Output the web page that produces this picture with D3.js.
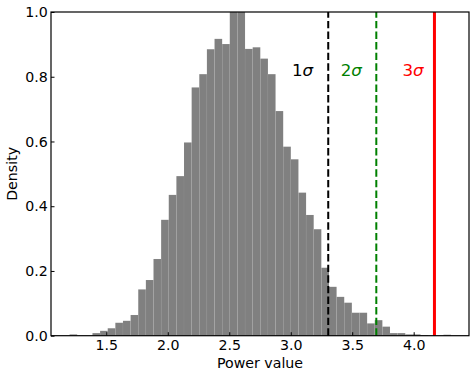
<!DOCTYPE html>
<html>
<head>
<meta charset="utf-8">
<script src="https://cdn.jsdelivr.net/npm/d3@7"></script>
<style>
  body { margin: 0; background: #fff; }
  text { font-family: "DejaVu Sans", sans-serif; }
</style>
</head>
<body>
<div id="chart"></div>
<script>
// histogram: 50 bins between data min and max
var binMin = 1.201,
  binMax = 4.304,
  binCount = 50;
var density = [0.004, 0, 0, 0.008, 0.015, 0.023, 0.040, 0.046, 0.064, 0.143,
  0.172, 0.237, 0.358, 0.435, 0.493, 0.597, 0.767, 0.808, 0.885, 0.917,
  0.901, 1.0, 1.0, 0.886, 0.891, 0.856, 0.808, 0.694, 0.584, 0.545,
  0.442, 0.373, 0.329, 0.210, 0.151, 0.120, 0.102, 0.071, 0.071, 0.038,
  0.048, 0.028, 0.008, 0.008, 0.004, 0.004, 0.002, 0, 0, 0.003];
var sigmaValues = [3.305, 3.696, 4.169];
var sigmaLabels = ['1', '2', '3'];
var sigmaColors = ['black', 'green', 'red'];
var xTicks = [1.5, 2.0, 2.5, 3.0, 3.5, 4.0];
var yTicks = [0, 0.2, 0.4, 0.6, 0.8, 1.0];

var W = 475, H = 377,
  m = {left: 51, right: 6, top: 12, bottom: 41.3};

var svg = d3.select('#chart').append('svg')
  .attr('width', W)
  .attr('height', H);

var x = d3.scaleLinear().domain([1.05, 4.45]).range([m.left, W - m.right]);
var y = d3.scaleLinear().domain([0, 1]).range([H - m.bottom, m.top]);

svg.append('clipPath').attr('id', 'clip')
  .append('rect')
  .attr('x', m.left).attr('y', m.top)
  .attr('width', W - m.left - m.right)
  .attr('height', H - m.top - m.bottom);

var binX = d3.scaleLinear().domain([0, binCount]).range([binMin, binMax]);

svg.append('g').attr('clip-path', 'url(#clip)')
  .selectAll('rect')
  .data(density)
  .enter().append('rect')
  .attr('x', function(d, i) { return x(binX(i)); })
  .attr('width', function(d, i) { return x(binX(i + 1)) - x(binX(i)); })
  .attr('y', function(d) { return y(d); })
  .attr('height', function(d) { return y(0) - y(d); })
  .attr('fill', '#808080')
  .attr('stroke', 'rgba(255,255,255,0.07)')
  .attr('stroke-width', 0.5);

// sigma lines
var lines = svg.append('g');
sigmaValues.forEach(function(v, i) {
  lines.append('line')
    .attr('x1', x(v)).attr('x2', x(v))
    .attr('y1', y(0)).attr('y2', y(1))
    .attr('stroke', sigmaColors[i])
    .attr('stroke-width', i == 2 ? 3 : 2)
    .attr('stroke-dasharray', i == 2 ? null : '7.4,3.2');
});

// labels
var labX = [302.5, 351.3, 413];
sigmaLabels.forEach(function(s, i) {
  var t = svg.append('text')
    .attr('x', labX[i])
    .attr('y', 76)
    .attr('text-anchor', 'middle')
    .attr('fill', sigmaColors[i])
    .style('font-size', '16.7px');
  t.append('tspan').text(s);
  t.append('tspan').style('font-style', 'italic').text('σ');
});

// axes
var xAxis = d3.axisBottom(x).tickValues(xTicks)
  .tickFormat(d3.format('.1f'))
  .tickSizeInner(-3.5).tickSizeOuter(0).tickPadding(4.3);
var yAxis = d3.axisLeft(y).tickValues(yTicks)
  .tickFormat(d3.format('.1f'))
  .tickSizeInner(-3.5).tickSizeOuter(0).tickPadding(3.2);

var gx = svg.append('g')
  .attr('transform', 'translate(0,' + y(0) + ')')
  .call(xAxis);
var gy = svg.append('g')
  .attr('transform', 'translate(' + m.left + ',0)')
  .call(yAxis);
[gx, gy].forEach(function(g) {
  g.select('.domain').remove();
  g.selectAll('text').style('font-size', '14.2px').attr('fill', 'black')
    .style('font-family', '"DejaVu Sans", sans-serif');
  g.selectAll('line').attr('stroke', 'black').attr('stroke-width', 1);
});

svg.append('rect')
  .attr('x', m.left).attr('y', m.top)
  .attr('width', W - m.left - m.right)
  .attr('height', H - m.top - m.bottom)
  .attr('fill', 'none')
  .attr('stroke', 'black')
  .attr('stroke-width', 1.2);

svg.append('text')
  .attr('x', (m.left + W - m.right) / 2)
  .attr('y', 367.5)
  .attr('text-anchor', 'middle')
  .style('font-size', '14.2px')
  .text('Power value');

svg.append('text')
  .attr('transform', 'translate(17,' + (m.top + H - m.bottom) / 2 + ')rotate(-90)')
  .attr('text-anchor', 'middle')
  .style('font-size', '14.2px')
  .text('Density');
</script>
</body>
</html>
